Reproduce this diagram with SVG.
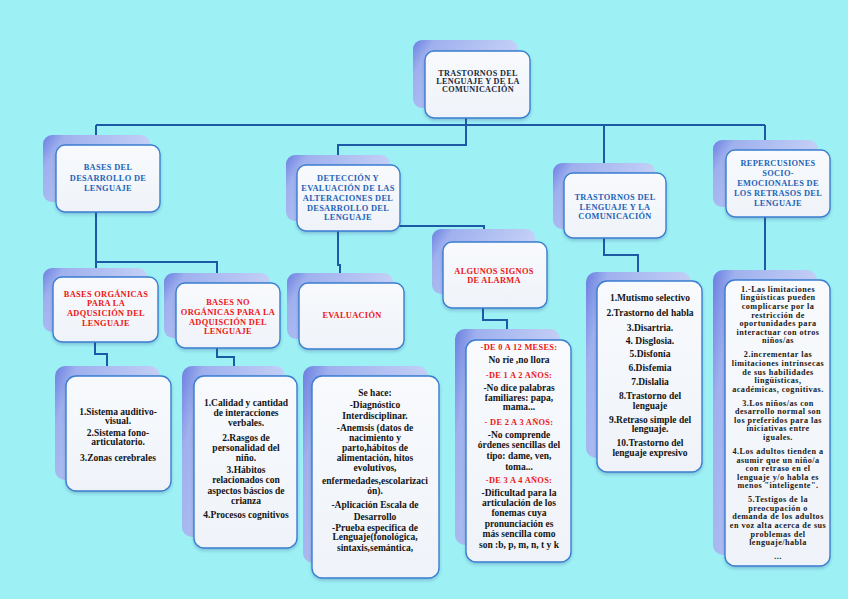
<svg xmlns="http://www.w3.org/2000/svg" width="848" height="599" viewBox="0 0 848 599">
<defs>
<linearGradient id="gb" x1="0" y1="0" x2="1" y2="0.4">
<stop offset="0" stop-color="#6a7fe0"/>
<stop offset="0.18" stop-color="#9fb0ee"/>
<stop offset="1" stop-color="#c9d4f7"/>
</linearGradient>
<linearGradient id="gf" x1="0" y1="0" x2="0" y2="1">
<stop offset="0" stop-color="#f8fafd"/>
<stop offset="1" stop-color="#eff3f9"/>
</linearGradient>
<filter id="sh" x="-10%" y="-10%" width="120%" height="125%">
<feDropShadow dx="0" dy="2" stdDeviation="1.5" flood-color="#204080" flood-opacity="0.25"/>
</filter>
<style>
.bk{fill:url(#gb);}
.fr{fill:url(#gf);stroke:#3a7dd0;stroke-width:1.4;filter:url(#sh);}
.c{fill:none;stroke:#1d5aa5;stroke-width:2;}
text{font-family:"Liberation Serif","DejaVu Serif",serif;font-weight:bold;text-anchor:middle;}
.h{font-size:8.4px;fill:#2463b6;letter-spacing:0.3px;}
.top{font-size:8.2px;fill:#1b2838;letter-spacing:0.3px;}
.r{font-size:8.4px;fill:#ee1515;letter-spacing:0.3px;}
.t{font-size:9.5px;fill:#141414;}
.s{font-size:8.2px;fill:#1a1a1a;letter-spacing:0.45px;}
</style>
</defs>
<rect width="848" height="599" fill="#9df0f4"/>

<g id="connectors">
<path class="c" d="M466 108 V125 M96 125 H765 M96 125 V135 M765 125 V140 M604 125 V163 M466 125 V145 H338 V155"/>
<path class="c" d="M96 202 V262 M96 262 H217 V273 M96 262 V268"/>
<path class="c" d="M95 342 V354 H107 V366"/>
<path class="c" d="M217 348 V357 H234 V366"/>
<path class="c" d="M338 221 V265 H340 V273"/>
<path class="c" d="M338 226 H484 V229"/>
<path class="c" d="M483 294 V320 H507 V329"/>
<path class="c" d="M604 229 V255 H638 V272"/>
<path class="c" d="M765 207 V270"/>
</g>

<g id="n-root">
<rect class="bk" x="413" y="40" width="105" height="68" rx="9"/>
<rect class="fr" x="425" y="51" width="105" height="67" rx="9"/>
<text class="top"><tspan x="478" y="76">TRASTORNOS DEL</tspan><tspan x="478" y="84">LENGUAJE Y DE LA</tspan><tspan x="478" y="92">COMUNICACIÓN</tspan></text>
</g>

<g id="n-bases">
<rect class="bk" x="43" y="135" width="107" height="67" rx="9"/>
<rect class="fr" x="56" y="145" width="104" height="67" rx="9"/>
<text class="h"><tspan x="108" y="170">BASES DEL</tspan><tspan x="108" y="181">DESARROLLO DE</tspan><tspan x="108" y="191">LENGUAJE</tspan></text>
</g>

<g id="n-deteccion">
<rect class="bk" x="286" y="155" width="104" height="66" rx="9"/>
<rect class="fr" x="297" y="165" width="103" height="66" rx="9"/>
<text class="h"><tspan x="348" y="181">DETECCIÓN Y</tspan><tspan x="348" y="191">EVALUACIÓN DE LAS</tspan><tspan x="348" y="201">ALTERACIONES DEL</tspan><tspan x="348" y="211">DESARROLLO DEL</tspan><tspan x="348" y="220">LENGUAJE</tspan></text>
</g>

<g id="n-trastornos">
<rect class="bk" x="553" y="163" width="102" height="66" rx="9"/>
<rect class="fr" x="564" y="173" width="102" height="65" rx="9"/>
<text class="h"><tspan x="615" y="200">TRASTORNOS DEL</tspan><tspan x="615" y="210">LENGUAJE Y LA</tspan><tspan x="615" y="219">COMUNICACIÓN</tspan></text>
</g>

<g id="n-repercusiones">
<rect class="bk" x="713" y="140" width="105" height="67" rx="9"/>
<rect class="fr" x="726" y="150" width="104" height="67" rx="9"/>
<text class="h"><tspan x="778" y="166">REPERCUSIONES</tspan><tspan x="778" y="175.5">SOCIO-</tspan><tspan x="778" y="186">EMOCIONALES DE</tspan><tspan x="778" y="196">LOS RETRASOS DEL</tspan><tspan x="778" y="206">LENGUAJE</tspan></text>
</g>

<g id="n-organicas">
<rect class="bk" x="43" y="268" width="104" height="64" rx="9"/>
<rect class="fr" x="53" y="277" width="105" height="65" rx="9"/>
<text class="r"><tspan x="106" y="297">BASES ORGÁNICAS</tspan><tspan x="106" y="306">PARA LA</tspan><tspan x="106" y="316">ADQUSICIÓN DEL</tspan><tspan x="106" y="326">LENGUAJE</tspan></text>
</g>

<g id="n-noorganicas">
<rect class="bk" x="164" y="273" width="106" height="65" rx="9"/>
<rect class="fr" x="176" y="283" width="104" height="65" rx="9"/>
<text class="r"><tspan x="228" y="305">BASES NO</tspan><tspan x="228" y="315">ORGÁNICAS PARA LA</tspan><tspan x="228" y="325">ADQUISCIÓN DEL</tspan><tspan x="228" y="334">LENGUAJE</tspan></text>
</g>

<g id="n-evaluacion">
<rect class="bk" x="287" y="273" width="106" height="66" rx="9"/>
<rect class="fr" x="299" y="283" width="105" height="66" rx="9"/>
<text class="r"><tspan x="352" y="318">EVALUACIÓN</tspan></text>
</g>

<g id="n-alarma">
<rect class="bk" x="432" y="229" width="103" height="65" rx="9"/>
<rect class="fr" x="443" y="242" width="104" height="66" rx="9"/>
<text class="r"><tspan x="494" y="274">ALGUNOS SIGNOS</tspan><tspan x="494" y="283">DE ALARMA</tspan></text>
</g>

<g id="n-sistemas">
<rect class="bk" x="55" y="366" width="105" height="114" rx="10"/>
<rect class="fr" x="66" y="376" width="105" height="115" rx="10"/>
<text class="t"><tspan x="118" y="415">1.Sistema auditivo-</tspan><tspan x="118" y="424">visual.</tspan><tspan x="118" y="436">2.Sistema fono-</tspan><tspan x="118" y="445">articulatorio.</tspan><tspan x="118" y="461">3.Zonas cerebrales</tspan></text>
</g>

<g id="n-calidad">
<rect class="bk" x="182" y="366" width="103" height="171" rx="10"/>
<rect class="fr" x="194" y="376" width="103" height="172" rx="10"/>
<text class="t"><tspan x="246" y="406">1.Calidad y cantidad</tspan><tspan x="246" y="416">de interacciones</tspan><tspan x="246" y="426">verbales.</tspan><tspan x="246" y="441">2.Rasgos de</tspan><tspan x="246" y="451">personalidad del</tspan><tspan x="246" y="461">niño.</tspan><tspan x="246" y="473">3.Hábitos</tspan><tspan x="246" y="483">relacionados con</tspan><tspan x="246" y="494">aspectos báscios de</tspan><tspan x="246" y="504">crianza</tspan><tspan x="246" y="518">4.Procesos cognitivos</tspan></text>
</g>

<g id="n-sehace">
<rect class="bk" x="303" y="366" width="125" height="197" rx="10"/>
<rect class="fr" x="312" y="376" width="127" height="202" rx="10"/>
<text class="t"><tspan x="375" y="396">Se hace:</tspan><tspan x="375" y="408">-Diagnóstico</tspan><tspan x="375" y="419">Interdisciplinar.</tspan><tspan x="375" y="431">-Anemsis (datos de</tspan><tspan x="375" y="441">nacimiento y</tspan><tspan x="375" y="451">parto,hábitos de</tspan><tspan x="375" y="461">alimentación, hitos</tspan><tspan x="375" y="471">evolutivos,</tspan><tspan x="375" y="484">enfermedades,escolarizaci</tspan><tspan x="375" y="494">ón).</tspan><tspan x="375" y="508">-Aplicación Escala de</tspan><tspan x="375" y="520">Desarrollo</tspan><tspan x="375" y="531">-Prueba especifica de</tspan><tspan x="375" y="540">Lenguaje(fonológica,</tspan><tspan x="375" y="551">sintaxis,semántica,</tspan></text>
</g>

<g id="n-signos">
<rect class="bk" x="455" y="329" width="105" height="216" rx="10"/>
<rect class="fr" x="466" y="340" width="105" height="222" rx="10"/>
<text class="r"><tspan x="519" y="350">-DE 0 A 12 MESES:</tspan><tspan x="519" y="378">-DE 1 A 2 AÑOS:</tspan><tspan x="519" y="425">- DE  2 A 3 AÑOS:</tspan><tspan x="519" y="483">-DE 3 A 4 AÑOS:</tspan></text>
<text class="t"><tspan x="519" y="363">No ríe ,no llora</tspan><tspan x="519" y="391">-No dice palabras</tspan><tspan x="519" y="401">familiares: papa,</tspan><tspan x="519" y="410">mama...</tspan><tspan x="519" y="438">-No comprende</tspan><tspan x="519" y="448">órdenes sencillas del</tspan><tspan x="519" y="459">tipo: dame, ven,</tspan><tspan x="519" y="470">toma...</tspan><tspan x="519" y="496">-Dificultad para la</tspan><tspan x="519" y="506">articulación de los</tspan><tspan x="519" y="516">fonemas cuya</tspan><tspan x="519" y="527">pronunciación es</tspan><tspan x="519" y="537">más sencilla como</tspan><tspan x="519" y="548">son :b, p, m, n, t y k</tspan></text>
</g>

<g id="n-lista">
<rect class="bk" x="586" y="272" width="105" height="186" rx="10"/>
<rect class="fr" x="597" y="281" width="105" height="191" rx="10"/>
<text class="t"><tspan x="650" y="301">1.Mutismo selectivo</tspan><tspan x="650" y="316">2.Trastorno del habla</tspan><tspan x="650" y="331">3.Disartria.</tspan><tspan x="650" y="344">4. Disglosia.</tspan><tspan x="650" y="357">5.Disfonía</tspan><tspan x="650" y="371">6.Disfemia</tspan><tspan x="650" y="385">7.Dislalia</tspan><tspan x="650" y="399">8.Trastorno del</tspan><tspan x="650" y="409">lenguaje</tspan><tspan x="650" y="423">9.Retraso simple del</tspan><tspan x="650" y="432">lenguaje.</tspan><tspan x="650" y="446">10.Trastorno del</tspan><tspan x="650" y="456">lenguaje expresivo</tspan></text>
</g>

<g id="n-efectos">
<rect class="bk" x="713" y="270" width="104" height="285" rx="10"/>
<rect class="fr" x="725" y="280" width="105" height="286" rx="10"/>
<text class="s"><tspan x="778" y="292">1.-Las limitaciones</tspan><tspan x="778" y="300.4">lingüísticas pueden</tspan><tspan x="778" y="309">complicarse por la</tspan><tspan x="778" y="317.6">restricción de</tspan><tspan x="778" y="326.2">oportunidades para</tspan><tspan x="778" y="334.8">interactuar con otros</tspan><tspan x="778" y="343.4">niños/as</tspan><tspan x="778" y="357.3">2.incrementar las</tspan><tspan x="778" y="365.9">limitaciones intrínsecas</tspan><tspan x="778" y="374.5">de sus habilidades</tspan><tspan x="778" y="383.1">lingüísticas,</tspan><tspan x="778" y="391.7">académicas, cognitivas.</tspan><tspan x="778" y="405.6">3.Los niños/as con</tspan><tspan x="778" y="414.2">desarrollo normal son</tspan><tspan x="778" y="422.8">los preferidos para las</tspan><tspan x="778" y="431.4">iniciativas entre</tspan><tspan x="778" y="440">iguales.</tspan><tspan x="778" y="453.9">4.Los adultos tienden a</tspan><tspan x="778" y="462.5">asumir que un niño/a</tspan><tspan x="778" y="471.1">con retraso en el</tspan><tspan x="778" y="479.7">lenguaje y/o habla es</tspan><tspan x="778" y="488.3">menos "inteligente".</tspan><tspan x="778" y="502.2">5.Testigos de la</tspan><tspan x="778" y="510.8">preocupación o</tspan><tspan x="778" y="519.4">demanda de los adultos</tspan><tspan x="778" y="528">en voz alta acerca de sus</tspan><tspan x="778" y="536.6">problemas del</tspan><tspan x="778" y="545.2">lenguaje/habla</tspan><tspan x="778" y="559.1">...</tspan></text>
</g>
</svg>
